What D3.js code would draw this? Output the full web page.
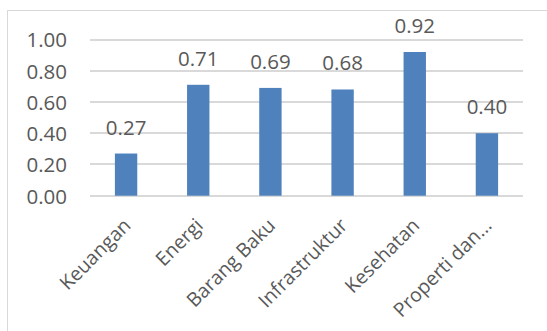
<!DOCTYPE html>
<html>
<head>
<meta charset="utf-8">
<script src="https://cdn.jsdelivr.net/npm/d3@7"></script>
<style>
  html, body { margin: 0; padding: 0; background: #fff; }
  svg { display: block; }
  text { font-family: "Open Sans", "Lato", sans-serif; fill: #595959; }
</style>
</head>
<body>
<svg id="chart" width="547" height="331"></svg>
<script>
// Sector values
const categories = ["Keuangan", "Energi", "Barang Baku", "Infrastruktur", "Kesehatan", "Properti dan..."];
const values = [0.27, 0.71, 0.69, 0.68, 0.92, 0.40];
const yTicks = [0, 0.2, 0.4, 0.6, 0.8, 1.0];

const svg = d3.select("#chart");
const W = 547, H = 331;
const plot = { left: 90, right: 523, top: 39.5, bottom: 195.7 };

// Chart frame
svg.append("rect")
  .attr("x", 7.5).attr("y", 10.5)
  .attr("width", W).attr("height", H)
  .attr("fill", "none").attr("stroke", "#d9d9d9").attr("stroke-width", 1);

const x = d3.scaleBand().domain(categories).range([plot.left, plot.right]).paddingInner(0.69).paddingOuter(0.345);
const y = d3.scaleLinear().domain([0, 1]).range([plot.bottom, plot.top]);

// Gridlines
svg.append("g").selectAll("line").data(yTicks).join("line")
  .attr("x1", plot.left).attr("x2", plot.right)
  .attr("y1", d => Math.round(y(d))).attr("y2", d => Math.round(y(d)))
  .attr("stroke", "#d9d9d9").attr("stroke-width", 2);

// Y axis labels
const yAxis = d3.axisLeft(y).tickValues(yTicks).tickFormat(d3.format(".2f")).tickSize(0).tickPadding(0);
const ya = svg.append("g").attr("transform", `translate(67,0)`).call(yAxis);
ya.select(".domain").remove();
ya.selectAll("text").style("font-size", "20.5px").style("font-family", "'Open Sans', sans-serif")
  .attr("fill", "#595959").attr("dy", "0.36em");

// Bars
svg.append("g").selectAll("rect").data(values).join("rect")
  .attr("x", (d, i) => x(categories[i]))
  .attr("width", x.bandwidth())
  .attr("y", d => y(d))
  .attr("height", d => y(0) - y(d))
  .attr("fill", "#4f81bd");

// Value labels
svg.append("g").selectAll("text").data(values).join("text")
  .attr("x", (d, i) => x(categories[i]) + x.bandwidth() / 2)
  .attr("y", d => y(d) - 19)
  .attr("text-anchor", "middle")
  .style("font-size", "20.5px")
  .text(d => d3.format(".2f")(d));

// Category labels, rotated
svg.append("g").selectAll("text").data(categories).join("text")
  .attr("transform", d => `translate(${x(d) + x.bandwidth() / 2 + 6},${plot.bottom + 31}) rotate(-45)`)
  .attr("text-anchor", "end")
  .style("font-size", "19.5px")
  .text(d => d);
</script>
</body>
</html>
